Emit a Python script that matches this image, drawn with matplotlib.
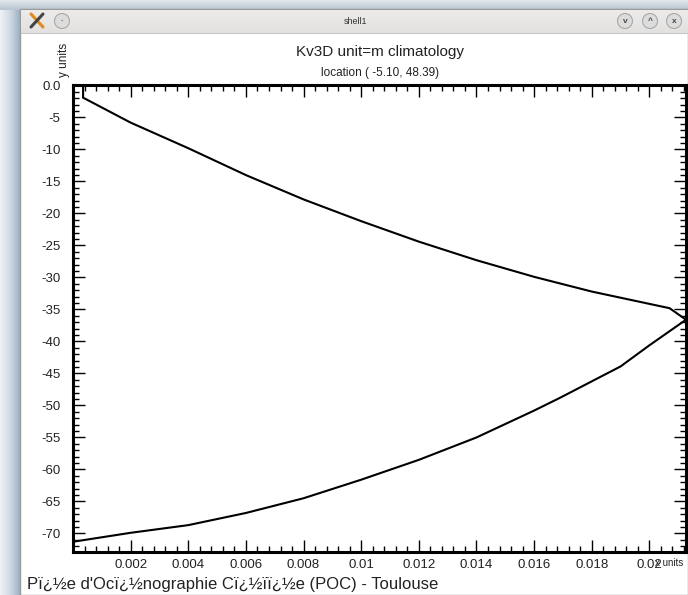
import matplotlib
matplotlib.use("Agg")
import matplotlib.pyplot as plt
import numpy as np
from matplotlib.patches import Rectangle, Circle
from matplotlib.colors import LinearSegmentedColormap
from matplotlib.ticker import MultipleLocator, FixedLocator

# Vertical profile of Kv against depth (m), from the surface to the bottom
depth = [0.0, -1.9, -5.8, -9.8, -14.0, -17.8, -21.2, -24.4, -27.3, -29.9,
         -32.2, -34.8, -36.6, -40.6, -43.9, -48.8, -50.8, -55.0, -58.5,
         -61.6, -64.5, -66.8, -68.7, -69.9, -71.3]
kv = [0.00035, 0.00035, 0.0020, 0.0040, 0.0060, 0.0080, 0.0100, 0.0120,
      0.0140, 0.0160, 0.0180, 0.0207, 0.02127, 0.0200, 0.0190, 0.0169,
      0.0160, 0.0140, 0.0120, 0.0100, 0.0080, 0.0060, 0.0040, 0.0020, 0.0]

x_ticks = [0.002, 0.004, 0.006, 0.008, 0.01, 0.012, 0.014, 0.016, 0.018, 0.02]
x_tick_labels = ["0.002", "0.004", "0.006", "0.008", "0.01", "0.012",
                 "0.014", "0.016", "0.018", "0.02"]
y_ticks = [0, -5, -10, -15, -20, -25, -30, -35, -40, -45, -50, -55, -60,
           -65, -70]
y_tick_labels = ["0.0", "-5", "-10", "-15", "-20", "-25", "-30", "-35",
                 "-40", "-45", "-50", "-55", "-60", "-65", "-70"]

title = "Kv3D unit=m climatology"
subtitle = "location ( -5.10, 48.39)"
footer = "Pï¿½e d'Ocï¿½nographie Cï¿½ïï¿½e (POC) - Toulouse"
window_title = "shell1"

W, H = 688, 595
FONT = ["Liberation Sans Narrow", "Liberation Sans", "DejaVu Sans"]
plt.rcParams["font.family"] = FONT

fig = plt.figure(figsize=(W / 100, H / 100), dpi=100)


def px(x, y):
    """Pixel position (from top-left) to figure fraction."""
    return x / W, 1 - y / H


# --- desktop and window frame -------------------------------------------
bg = fig.add_axes([0, 0, 1, 1], zorder=0)
bg.axis("off")

# desktop shadow: bluish gradient to the left of and above the window
grad = np.linspace(0, 1, 64)[None, :]
bg.imshow(grad, extent=(0, 21, H, 0),
          cmap=LinearSegmentedColormap.from_list(
              "shade", ["#f0f3f7", "#cfd9e3", "#97adc1"]),
          aspect="auto", zorder=0)
vgrad = np.linspace(0, 1, 32)[:, None]
bg.imshow(vgrad, extent=(0, W, 10, 0),
          cmap=LinearSegmentedColormap.from_list(
              "shade2", ["#e3e8ee", "#b7c4d1"]),
          aspect="auto", zorder=0)

# window body
bg.add_patch(Rectangle((20, 9), W - 20, H - 9, facecolor="white",
                       edgecolor="#9a9a9a", lw=1.0, zorder=1))
# title bar
bg.imshow(vgrad, extent=(21, W, 33, 10),
          cmap=LinearSegmentedColormap.from_list("bar", ["#edeceb", "#e2e1e0"]),
          aspect="auto", zorder=2)
bg.plot([21, W], [33, 33], color="#c8c8c8", lw=0.8, zorder=3)
bg.set_xlim(0, W)
bg.set_ylim(H, 0)

bg.text(355, 21, window_title, ha="center", va="center", fontsize=6.5,
        color="#333333", zorder=4)

# application icon
bg.plot([31, 43], [14, 27], color="#e08a1e", lw=2.2, zorder=4,
        solid_capstyle="round")
bg.plot([31, 43], [27, 14], color="#444444", lw=2.2, zorder=4,
        solid_capstyle="round")
# window buttons
for cx, glyph in [(62, "·"), (625, "v"), (650, "^"), (674, "x")]:
    bg.add_patch(Circle((cx, 21), 7.5, facecolor="#dcdcdc",
                        edgecolor="#a8a8a8", lw=0.8, zorder=4))
    bg.text(cx, 21.5, glyph, ha="center", va="center", fontsize=6,
            color="#444444", zorder=5, fontweight="bold")

# --- profile plot ---------------------------------------------------------
x0, y0 = px(73, 552)
x1, y1 = px(686, 85.5)
ax = fig.add_axes([x0, y0, x1 - x0, y1 - y0], zorder=2)
ax.patch.set_alpha(0)

ax.plot(kv, depth, color="black", lw=1.5, solid_joinstyle="miter")

ax.set_xlim(0.0, 0.02127)
ax.set_ylim(-72.9, 0.0)

ax.xaxis.set_major_locator(FixedLocator(x_ticks))
ax.set_xticklabels(x_tick_labels)
ax.xaxis.set_minor_locator(MultipleLocator(0.0004))
ax.yaxis.set_major_locator(FixedLocator(y_ticks))
ax.set_yticklabels(y_tick_labels)
ax.yaxis.set_minor_locator(MultipleLocator(1))

ax.tick_params(which="both", direction="in", top=True, right=True,
               color="black", labelsize=9.5, labelcolor="#222222")
ax.tick_params(which="major", length=8.5, width=1.0)
ax.tick_params(which="minor", length=4, width=1.0)
ax.tick_params(axis="x", pad=5)
ax.tick_params(axis="y", pad=9)
for s in ax.spines.values():
    s.set_linewidth(2.2)

# titles and axis captions
fig.text(*px(380, 52), title, ha="center", va="center", fontsize=11,
         color="#222222")
fig.text(*px(380, 73), subtitle, ha="center", va="center", fontsize=8.5,
         color="#222222")
fig.text(*px(64, 60), "y units", ha="center", va="center", fontsize=8.5,
         rotation=90, color="#222222")
fig.text(*px(669, 563), "x units", ha="center", va="center", fontsize=7,
         color="#222222")
fig.text(*px(27, 584), footer, ha="left", va="center", fontsize=12,
         color="#222222")

fig.savefig("out.png", dpi=100)
